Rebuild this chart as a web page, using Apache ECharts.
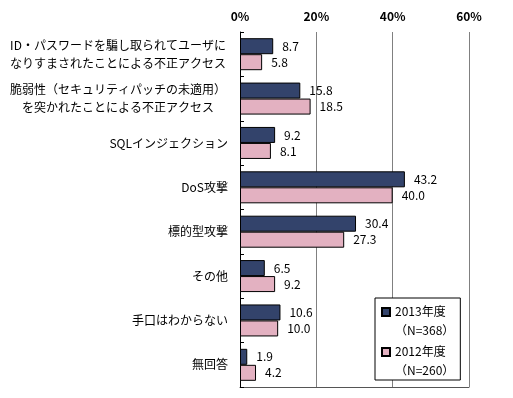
<!DOCTYPE html>
<html>
<head>
<meta charset="utf-8">
<script src="https://cdn.jsdelivr.net/npm/echarts@6/dist/echarts.min.js"></script>
<style>
    html, body { margin: 0; padding: 0; background: #fff; }
    #chart { width: 513px; height: 398px; }
</style>
</head>
<body>
<div id="chart"></div>
<script>
    var categories = [
        'ID・パスワードを騙し取られてユーザに\nなりすまされたことによる不正アクセス',
        '脆弱性（セキュリティパッチの未適用）\nを突かれたことによる不正アクセス',
        'SQLインジェクション',
        'DoS攻撃',
        '標的型攻撃',
        'その他',
        '手口はわからない',
        '無回答'
    ];
    var values2013 = [8.7, 15.8, 9.2, 43.2, 30.4, 6.5, 10.6, 1.9];
    var values2012 = [5.8, 18.5, 8.1, 40.0, 27.3, 9.2, 10.0, 4.2];
    var seriesNames = ['2013年度\n（N=368）', '2012年度\n（N=260）'];
    var xTicks = [0, 20, 40, 60];

    var font = '"Noto Sans CJK JP", "Noto Sans", sans-serif';

    function valueLabel() {
        return {
            show: true,
            position: 'right',
            distance: 9,
            color: '#000',
            fontSize: 12,
            fontFamily: font,
            formatter: function (p) { return p.value.toFixed(1); }
        };
    }

    // square marker drawn near the top of a tall icon box so it sits on the first text line
    var legendIcon = 'path://M0,0M0,5L8,5L8,13L0,13ZM0,36';

    var option = {
        animation: false,
        textStyle: { fontFamily: font },
        grid: { left: 240, right: 44, top: 32, bottom: 11, containLabel: false },
        legend: {
            orient: 'vertical',
            left: 375,
            top: 298,
            icon: legendIcon,
            itemWidth: 8,
            itemHeight: 36,
            itemGap: 2,
            padding: [4, 6, 0, 6],
            borderColor: '#000',
            borderWidth: 1,
            backgroundColor: '#fff',
            textStyle: { color: '#000', fontSize: 12, fontFamily: font, lineHeight: 19 },
            data: seriesNames
        },
        xAxis: [{
            type: 'value',
            position: 'top',
            min: 0,
            max: 60,
            interval: 20,
            axisLine: { show: false },
            axisTick: { show: false },
            splitLine: { show: true, lineStyle: { color: '#808080', width: 1 } },
            axisLabel: {
                color: '#000', fontSize: 12, fontWeight: 'bold', margin: 10,
                formatter: function (v) { return xTicks.indexOf(v) >= 0 ? v + '%' : ''; }
            }
        }, {
            type: 'value',
            position: 'bottom',
            min: 0,
            max: 60,
            axisLine: { show: true, lineStyle: { color: '#555', width: 1 } },
            axisTick: { show: false },
            axisLabel: { show: false },
            splitLine: { show: false }
        }],
        yAxis: {
            type: 'category',
            inverse: true,
            data: categories,
            axisLine: { show: true, lineStyle: { color: '#000', width: 1 } },
            axisTick: { show: true, inside: true, length: 4, lineStyle: { color: '#000' } },
            axisLabel: {
                color: '#000', fontSize: 12, margin: 12, lineHeight: 18, align: 'right',
                formatter: function (v) {
                    if (v.indexOf('\n') < 0) return v;
                    return v.split('\n').map(function (s) { return '{m|' + s + '}'; }).join('\n');
                },
                rich: {
                    m: { width: 220, align: 'center', fontSize: 12, lineHeight: 18, color: '#000' }
                }
            }
        },
        series: [{
            name: seriesNames[0],
            type: 'bar',
            xAxisIndex: 0,
            data: values2013,
            barWidth: 16,
            barGap: '0%',
            itemStyle: { color: '#33436B', borderColor: '#000', borderWidth: 1 },
            label: valueLabel()
        }, {
            name: seriesNames[1],
            type: 'bar',
            xAxisIndex: 0,
            data: values2012,
            barWidth: 16,
            barGap: '0%',
            itemStyle: { color: '#E3B1C1', borderColor: '#000', borderWidth: 1 },
            label: valueLabel()
        }]
    };

    echarts.init(document.getElementById('chart')).setOption(option);
</script>
</body>
</html>
